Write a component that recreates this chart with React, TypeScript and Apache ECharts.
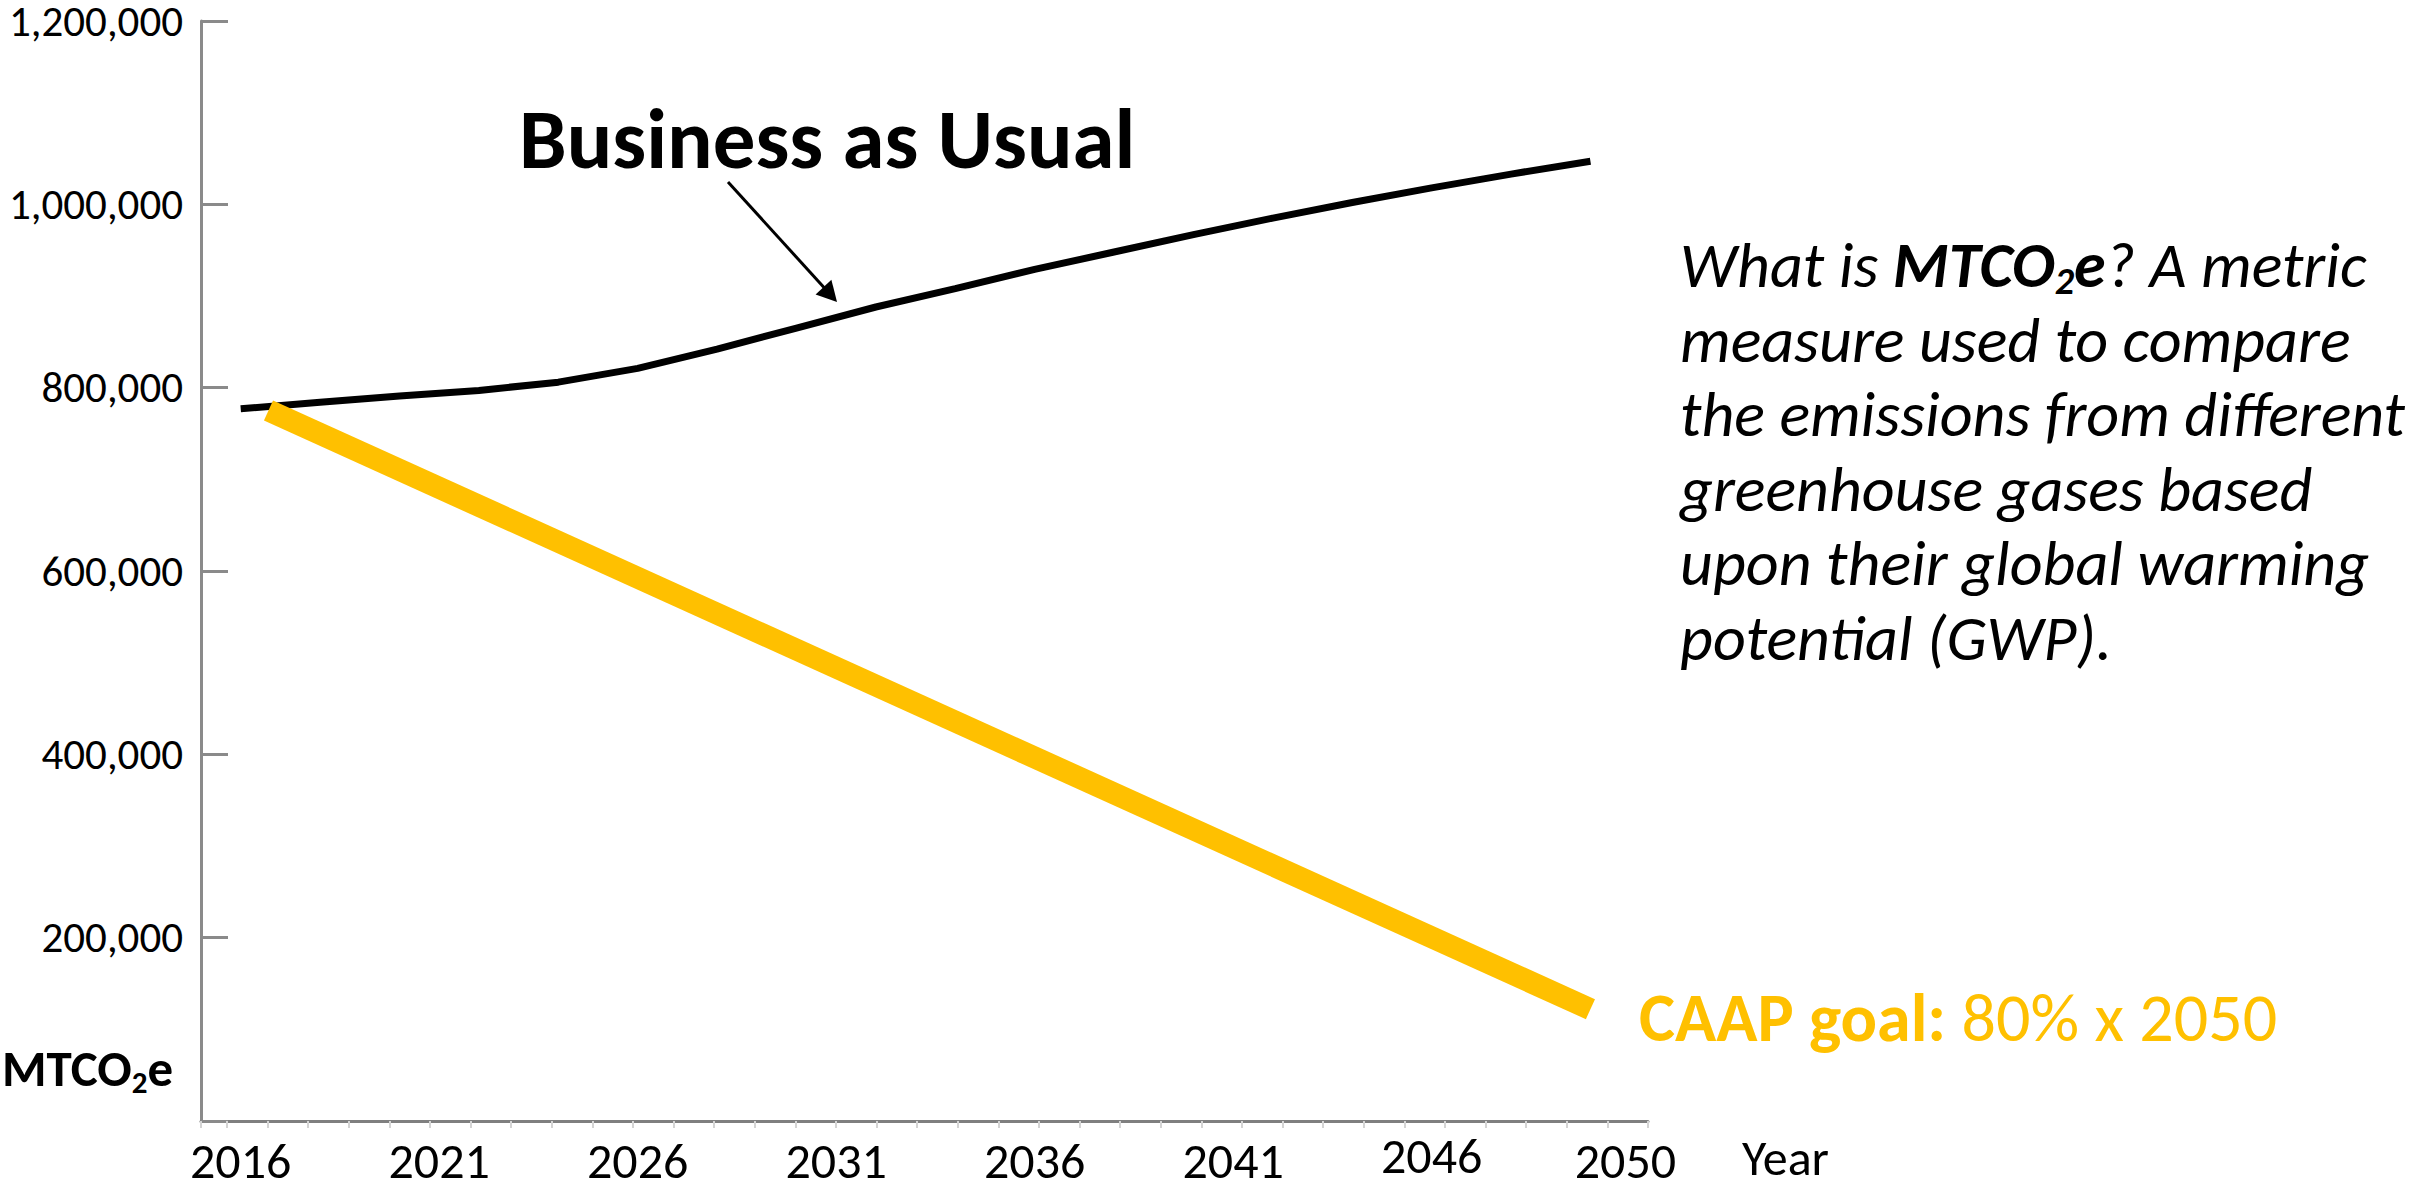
import React, { useEffect, useRef } from "react";
import * as echarts from "echarts";

// ---- data ----
const bauYears = [2016, 2018, 2020, 2022, 2024, 2026, 2028, 2030, 2032, 2034, 2036, 2038, 2040, 2042, 2044, 2046, 2048, 2050];
const bauValues = [777000, 784000, 791000, 797000, 806000, 821000, 842000, 865000, 888000, 908000, 929000, 948000, 967000, 985000, 1002000, 1018000, 1033000, 1047000];
const goalYears = [2016.7, 2050];
const goalValues = [775000, 122000];
const xLabelYears = [2016, 2021, 2026, 2031, 2036, 2041, 2046, 2050];
const yMin = 0;
const yMax = 1200000;
const yStep = 200000;
const xMin = 2015;
const xMax = 2051.45;

const bauLabel = "Business as Usual";
const xName = "Year";
const unitParts = ["MTCO", "2", "e"];
const goalBold = "CAAP goal:";
const goalRest = " 80% x 2050";
const noteFirst = ["What is ", "MTCO", "2", "e", "? A metric"];
const noteLines = [
  "measure used to compare",
  "the emissions from different",
  "greenhouse gases based",
  "upon their global warming",
  "potential (GWP).",
];

const FONT = "Carlito, Calibri, Lato, sans-serif";
const GOLD = "#FFC000";
const AXIS_GRAY = "#8a8a8a";
const XFS = 50;

export default function App() {
  const ref = useRef<HTMLDivElement>(null);

  useEffect(() => {
    if (!ref.current) return;
    const chart = echarts.init(ref.current, undefined, { renderer: "svg" });

    const noteText =
      `{i|${noteFirst[0]}}{b|${noteFirst[1]}}{bs|${noteFirst[2]}}{b|${noteFirst[3]}}{i|${noteFirst[4]}}\n` +
      noteLines.map((l) => `{i|${l}}`).join("\n");

    chart.setOption({
      animation: false,
      backgroundColor: "#ffffff",
      grid: { left: 201, top: 21, right: 769, bottom: 64, containLabel: false, outerBoundsMode: "none" },
      xAxis: [
        {
          type: "value",
          min: xMin,
          max: xMax,
          interval: 1,
          position: "bottom",
          axisLine: { show: true, onZero: false, lineStyle: { color: "#7f7f7f", width: 3 } },
          axisTick: { show: false },
          splitLine: { show: false },
          axisLabel: {
            show: true,
            margin: 21,
            fontFamily: FONT,
            fontSize: XFS,
            lineHeight: 36,
            color: "#000",
            showMinLabel: true,
            showMaxLabel: false,
            formatter: (v: number) => {
              const y = Math.round(v);
              if (Math.abs(v - y) > 1e-6 || xLabelYears.indexOf(y) < 0) return "";
              if (y === 2050) return `{shift|${y}}`;
              if (y === 2046) return `{up|${y}}`;
              return String(y);
            },
            rich: {
              shift: { fontFamily: FONT, fontSize: XFS, lineHeight: 36, color: "#000", padding: [0, 0, 0, 70] },
              up: { fontFamily: FONT, fontSize: XFS, lineHeight: 36, color: "#000", padding: [0, 0, 10, 0] },
            },
          },
        },
        {
          type: "value",
          min: 0,
          max: 35.64,
          interval: 1,
          inverse: true,
          position: "bottom",
          axisLine: { show: false },
          axisLabel: { show: false },
          splitLine: { show: false },
          axisTick: { show: true, length: 7, lineStyle: { color: "#d4d4d4", width: 2 } },
        },
      ],
      yAxis: {
        type: "value",
        min: yMin,
        max: yMax,
        interval: yStep,
        axisLine: { show: true, onZero: false, lineStyle: { color: AXIS_GRAY, width: 3 } },
        axisTick: { show: true, inside: true, length: 27, lineStyle: { color: AXIS_GRAY, width: 3 } },
        splitLine: { show: false },
        axisLabel: {
          margin: 18,
          fontFamily: FONT,
          fontSize: 43,
          lineHeight: 34,
          color: "#000",
          formatter: (v: number) => (v === 0 ? "" : v.toLocaleString("en-US")),
        },
      },
      series: [
        {
          name: "Business as Usual",
          type: "line",
          xAxisIndex: 0,
          data: bauYears.map((y, i) => [y, bauValues[i]]),
          symbol: "none",
          lineStyle: { color: "#000", width: 7 },
          z: 2,
        },
        {
          name: "CAAP goal",
          type: "line",
          xAxisIndex: 0,
          data: goalYears.map((y, i) => [y, goalValues[i]]),
          symbol: "none",
          lineStyle: { color: GOLD, width: 22, cap: "butt" },
          z: 3,
        },
      ],
      graphic: [
        {
          type: "text",
          x: 519,
          y: 139,
          style: {
            text: bauLabel,
            fontFamily: FONT,
            fontWeight: "bold",
            fontSize: 85,
            fill: "#000",
            align: "left",
            verticalAlign: "middle",
          },
        },
        {
          type: "line",
          shape: { x1: 728, y1: 182, x2: 829, y2: 293 },
          style: { stroke: "#000", lineWidth: 3 },
        },
        {
          type: "polygon",
          shape: { points: [[837, 302], [815.6, 294.6], [831.4, 279.8]] },
          style: { fill: "#000" },
        },
        {
          type: "text",
          x: 1742,
          y: 1157,
          style: {
            text: xName,
            fontFamily: FONT,
            fontSize: 50,
            lineHeight: 36,
            fill: "#000",
            align: "left",
            verticalAlign: "middle",
          },
        },
        {
          type: "text",
          x: 2,
          y: 1068,
          style: {
            text: `{b|${unitParts[0]}}{s|${unitParts[1]}}{b|${unitParts[2]}}`,
            align: "left",
            verticalAlign: "middle",
            rich: {
              b: { fontFamily: FONT, fontWeight: "bold", fontSize: 51, fill: "#000", lineHeight: 60 },
              s: { fontFamily: FONT, fontWeight: "bold", fontSize: 31, fill: "#000", lineHeight: 60, padding: [28, 0, 0, 0] },
            },
          },
        },
        {
          type: "text",
          x: 1639,
          y: 1017,
          style: {
            text: `{b|${goalBold}}{r|${goalRest}}`,
            align: "left",
            verticalAlign: "middle",
            rich: {
              b: { fontFamily: FONT, fontWeight: "bold", fontSize: 68, fill: GOLD },
              r: { fontFamily: FONT, fontWeight: "normal", fontSize: 68, fill: GOLD },
            },
          },
        },
        {
          type: "text",
          x: 1680,
          y: 228,
          style: {
            text: noteText,
            align: "left",
            verticalAlign: "top",
            rich: {
              i: { fontFamily: FONT, fontStyle: "italic", fontSize: 64, fill: "#000", lineHeight: 74.5 },
              b: { fontFamily: FONT, fontStyle: "italic", fontWeight: "bold", fontSize: 64, fill: "#000", lineHeight: 74.5 },
              bs: { fontFamily: FONT, fontStyle: "italic", fontWeight: "bold", fontSize: 38, fill: "#000", lineHeight: 74.5, padding: [32, 0, 0, 0] },
            },
          },
        },
      ],
    });

    return () => chart.dispose();
  }, []);

  return (
    <div
      ref={ref}
      style={{ position: "fixed", left: 0, top: 0, width: 2417, height: 1185, background: "#fff" }}
    />
  );
}
